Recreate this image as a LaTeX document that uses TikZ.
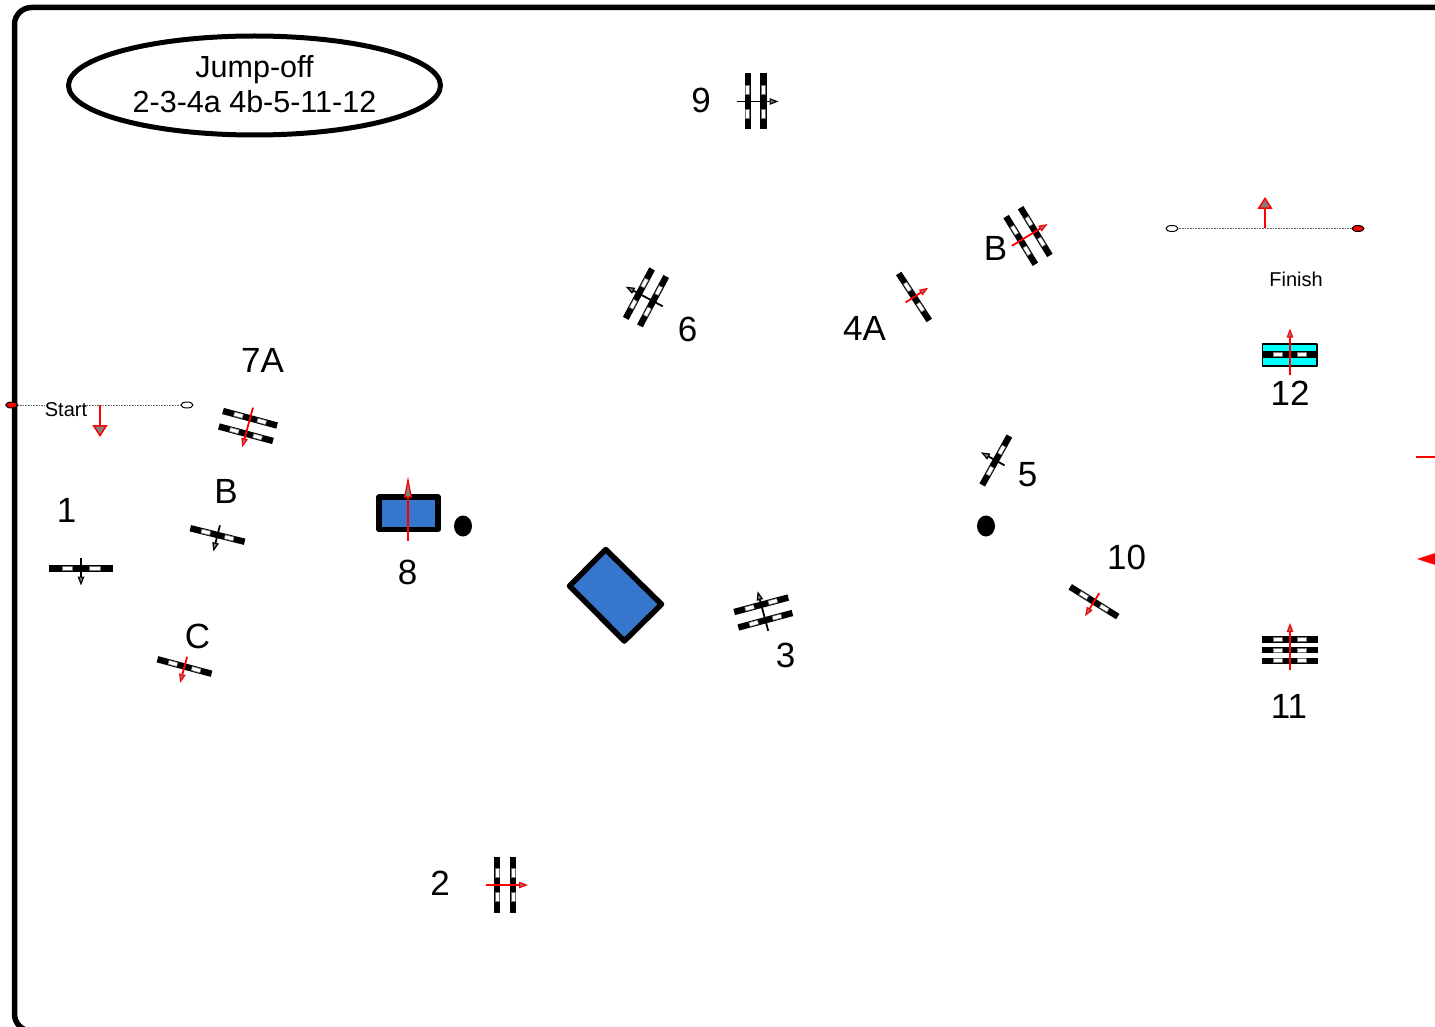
\documentclass[tikz,border=0pt]{standalone}
\usepackage{fontspec}
\setmainfont{Liberation Sans}
\usetikzlibrary{arrows.meta,shapes.geometric}
\definecolor{obstacleblue}{HTML}{3676CC}
\definecolor{pool}{RGB}{0,255,255}
\tikzset{
	num/.style={inner sep=0pt,font=\fontsize{35}{40}\selectfont},
	small/.style={inner sep=0pt,font=\fontsize{20}{24}\selectfont},
	railbar/.style={fill=black},
	railgap/.style={fill=white,draw=black!55,line width=0.5pt},
	flag/.style={draw=black,line width=1pt,minimum width=12pt,minimum height=6pt,inner sep=0pt,ellipse},
	water/.style={draw=black,line width=5.5pt,fill=obstacleblue,line join=round},
	line/.style={draw=#1,line width=1.8pt,-{Triangle[length=9pt,width=6.5pt,fill=gray,line width=1.2pt]}},
	gate/.style={draw=red,line width=1.8pt,-{Triangle[length=12pt,width=15pt,fill=gray,line width=1.5pt]}},
	dots/.style={densely dotted,line width=0.6pt,black!60}
}
% x y angle half length offsets colour tail head
\newcommand{\fence}[8]{
	\begin{scope}[shift={(#1,#2)},rotate=#3]
		\foreach \o in {#5}{
			\fill[railbar] (-#4,\o-3.2) rectangle (#4,\o+3.2);
			\draw[railgap] (-#4*0.59,\o-2) rectangle (-#4*0.27,\o+2);
			\draw[railgap] (#4*0.27,\o-2) rectangle (#4*0.59,\o+2);
		}
		\draw[line=#6] (0,-#7)--(0,#8);
	\end{scope}
}
\begin{document}
\begin{tikzpicture}[x=1pt,y=-1pt,line join=round]
	\useasboundingbox (0,0) rectangle (1435,1027);
	\clip (0,0) rectangle (1435,1027);
	\draw[line width=5.5pt,rounded corners=17pt] (14.5,7.5) rectangle (1500,1031);
	\node[ellipse,draw,line width=5pt,minimum width=372pt,minimum height=99pt,inner sep=0pt,align=center,font=\fontsize{30.5}{35}\selectfont] (jumpoff) at (254.5,85.5) {Jump-off\\2-3-4a 4b-5-11-12\rule[-4pt]{0pt}{1pt}};
	%start
	\node[flag,fill=red] (s1) at (11.7,405) {};
	\node[flag,fill=white] (s2) at (187,405) {};
	\draw[dots] (s1)--(s2);
	\coordinate (st) at (100,405);
	\coordinate (sh) at (100,437);
	\draw[gate] (st)--(sh);
	\node[small,fill=white] (start) at (66,409.5) {Start};
	%finish
	\node[flag,fill=white] (f1) at (1172,228.5) {};
	\node[flag,fill=red] (f2) at (1358,228.5) {};
	\draw[dots] (f1)--(f2);
	\coordinate (ft) at (1265,228.5);
	\coordinate (fh) at (1265,197);
	\draw[gate] (ft)--(fh);
	\node[small] (finish) at (1296,279) {Finish};
	%fences
	\fence{81}{568.5}{0}{32}{0}{black}{10.5}{17}
	\fence{217.5}{535}{-14}{28}{0}{black}{10}{17}
	\fence{184.5}{666.5}{-15}{28}{0}{red}{10}{17}
	\fence{248}{426}{-15}{28}{-8,8}{red}{19}{22}
	\fence{755.5}{101.5}{90}{28}{-7.8,7.8}{black}{19}{23}
	\fence{505}{885}{90}{28}{-8,8}{red}{19}{23}
	\fence{646}{297.4}{242}{28}{-8,8}{black}{19}{23}
	\fence{914}{297}{123}{28}{0}{red}{10}{17}
	\fence{1028}{236}{121.5}{28}{-8.5,8.5}{red}{19}{23}
	\fence{995.8}{460.5}{241}{28}{0}{black}{10}{17}
	\fence{763.3}{612.5}{195}{28}{-8,8}{black}{19}{22}
	\fence{1094}{601.7}{-32}{28}{0}{red}{10}{17}
	\fill[pool,draw=black,line width=1.5pt] (1262.5,344) rectangle (1317,366);
	\fence{1290}{354.5}{180}{28}{0}{red}{20}{26}
	\fence{1290}{650}{180}{28}{-10.7,0,10.7}{red}{20}{27}
	%water
	\draw[water] (379,497) rectangle (438,529.5);
	\coordinate (wt) at (408,540.5);
	\coordinate (wh) at (408,476.5);
	\draw[draw=red,line width=1.8pt,-{Triangle[length=21pt,width=7.5pt,fill=gray,line width=1.2pt]}] (wt)--(wh);
	\draw[water] (605.7,549.5)--(661.5,604.3)--(624.3,641)--(569.5,586)--cycle;
	%trees
	\fill (463,526) ellipse (9 and 10.5);
	\fill (986,526) ellipse (9 and 10.5);
	%cut off on the right
	\draw[red,line width=1.5pt] (1416,457)--(1440,457);
	\fill[red] (1417,559)--(1440,551.5)--(1440,566.5)--cycle;
	%numbers
	\node[num] (n9) at (701,100) {9};
	\node[num] (n6) at (687.5,329) {6};
	\node[num] (n7a) at (262.5,360.5) {7A};
	\node[num] (n4a) at (864.5,328.5) {4A};
	\node[num] (n4b) at (995.5,248) {B};
	\node[num] (n5) at (1027.5,474.5) {5};
	\node[num] (n12) at (1290,393.5) {12};
	\node[num] (n1) at (66.5,510) {1};
	\node[num] (n7b) at (226,491.5) {B};
	\node[num] (n7c) at (197.5,636.5) {C};
	\node[num] (n8) at (407.5,572) {8};
	\node[num] (n3) at (785.5,655) {3};
	\node[num] (n10) at (1126.5,557) {10};
	\node[num] (n11) at (1289,706) {11};
	\node[num] (n2) at (440,883.5) {2};
\end{tikzpicture}
\end{document}
